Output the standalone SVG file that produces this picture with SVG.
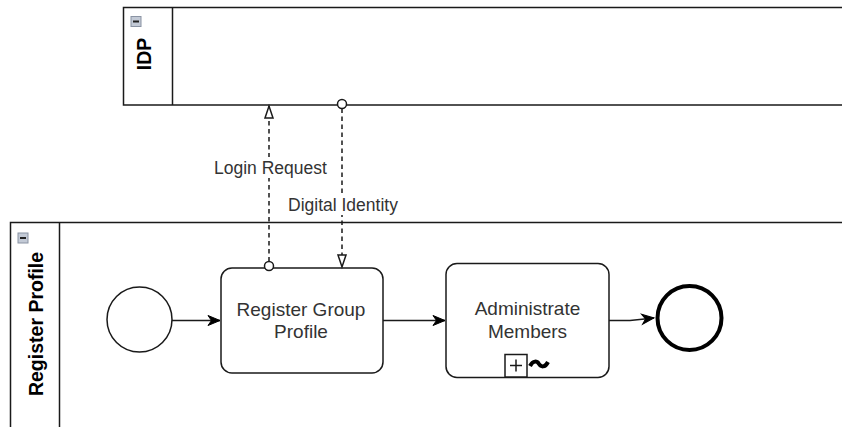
<svg xmlns="http://www.w3.org/2000/svg" width="842" height="427" viewBox="0 0 842 427">
  <style>
    .pool { fill: #ffffff; stroke: #1a1a1a; stroke-width: 1.5; }
    .title { font-family: "Liberation Sans", Arial, sans-serif; font-weight: bold; font-size: 19.5px; fill: #000000; text-anchor: middle; }
    .task { fill: #ffffff; stroke: #1a1a1a; stroke-width: 1.5; }
    .ttext { font-family: "Liberation Sans", Arial, sans-serif; font-size: 19px; fill: #333333; text-anchor: middle; }
    .label { font-family: "Liberation Sans", Arial, sans-serif; font-size: 17.5px; fill: #333333; }
    .seq { fill: none; stroke: #1a1a1a; stroke-width: 1.5; }
    .msg { fill: none; stroke: #1a1a1a; stroke-width: 1.5; stroke-dasharray: 4.5 3.5; }
    .msgcirc { fill: #ffffff; stroke: #1a1a1a; stroke-width: 1.5; }
    .icon { fill: #c3cad6; stroke: #8a93a3; stroke-width: 1; }
  </style>
  <defs>
    <marker id="seqArrow" markerUnits="userSpaceOnUse" markerWidth="14" markerHeight="12" refX="12" refY="5" orient="auto" overflow="visible">
      <path d="M0,0 L12,5 L0,10 L3.5,5 Z" fill="#000000" stroke="#000000" stroke-width="1"/>
    </marker>
    <marker id="msgArrow" markerUnits="userSpaceOnUse" markerWidth="14" markerHeight="10" refX="12" refY="4" orient="auto" overflow="visible">
      <path d="M0,0 L12,4 L0,8 Z" fill="#ffffff" stroke="#1a1a1a" stroke-width="1.5"/>
    </marker>
  </defs>
  <rect width="842" height="427" fill="#ffffff"/>

  <g id="pool-idp">
    <path class="pool" d="M842,7.5 L123.5,7.5 L123.5,105 L842,105"/>
    <line x1="172.5" y1="7.5" x2="172.5" y2="105" stroke="#1a1a1a" stroke-width="1.5"/>
    <rect class="icon" x="131" y="16.5" width="10" height="10"/>
    <line x1="133" y1="21.5" x2="139" y2="21.5" stroke="#222" stroke-width="2"/>
    <text class="title" transform="translate(150.5,54) rotate(-90)">IDP</text>
  </g>

  <g id="pool-register-profile">
    <path class="pool" d="M842,222.5 L10.5,222.5 L10.5,427"/>
    <line x1="59.5" y1="222.5" x2="59.5" y2="427" stroke="#1a1a1a" stroke-width="1.5"/>
    <rect class="icon" x="18" y="233" width="10" height="10"/>
    <line x1="20" y1="238" x2="26" y2="238" stroke="#222" stroke-width="2"/>
    <text class="title" transform="translate(42.5,324) rotate(-90)">Register Profile</text>
  </g>

  <g id="start-event">
    <circle cx="139.5" cy="319.5" r="32.5" fill="#ffffff" stroke="#1a1a1a" stroke-width="1.5"/>
  </g>

  <g id="task-register-group-profile">
    <rect class="task" x="221" y="268" width="162" height="105" rx="11" ry="11"/>
    <text class="ttext" x="301" y="315.5">Register Group</text>
    <text class="ttext" x="301" y="338">Profile</text>
  </g>

  <g id="task-administrate-members">
    <rect class="task" x="446" y="263.5" width="163" height="114" rx="11" ry="11"/>
    <text class="ttext" x="527.5" y="314.5">Administrate</text>
    <text class="ttext" x="527.5" y="337.5">Members</text>
    <rect x="505" y="354.5" width="22" height="22.5" fill="#ffffff" stroke="#1a1a1a" stroke-width="1.5"/>
    <line x1="510" y1="365.5" x2="522" y2="365.5" stroke="#1a1a1a" stroke-width="1.5"/>
    <line x1="516" y1="359.5" x2="516" y2="371.5" stroke="#1a1a1a" stroke-width="1.5"/>
    <path d="M530,366 C533,360 537,361 539,364 C541,367 545,368 548,362" fill="none" stroke="#000000" stroke-width="4"/>
  </g>

  <g id="end-event">
    <circle cx="689.5" cy="318" r="32" fill="#ffffff" stroke="#000000" stroke-width="4"/>
  </g>

  <g id="connectors">
    <line class="seq" x1="172" y1="320.5" x2="220" y2="320.5" marker-end="url(#seqArrow)"/>
    <line class="seq" x1="383" y1="320.5" x2="445" y2="320.5" marker-end="url(#seqArrow)"/>
    <path class="seq" d="M609,320.5 L630,320.5 L654,318" marker-end="url(#seqArrow)"/>

    <line class="msg" x1="269" y1="261.5" x2="269" y2="106" marker-end="url(#msgArrow)"/>
    <circle class="msgcirc" cx="269" cy="266" r="4.5"/>
    <line class="msg" x1="342" y1="108.5" x2="342" y2="267" marker-end="url(#msgArrow)"/>
    <circle class="msgcirc" cx="342" cy="104" r="4.5"/>

    <rect x="213" y="157" width="116" height="21" fill="#ffffff"/>
    <text class="label" x="214" y="173.5">Login Request</text>
    <rect x="287" y="194" width="111" height="21" fill="#ffffff"/>
    <text class="label" x="288" y="210.5">Digital Identity</text>
  </g>
</svg>
